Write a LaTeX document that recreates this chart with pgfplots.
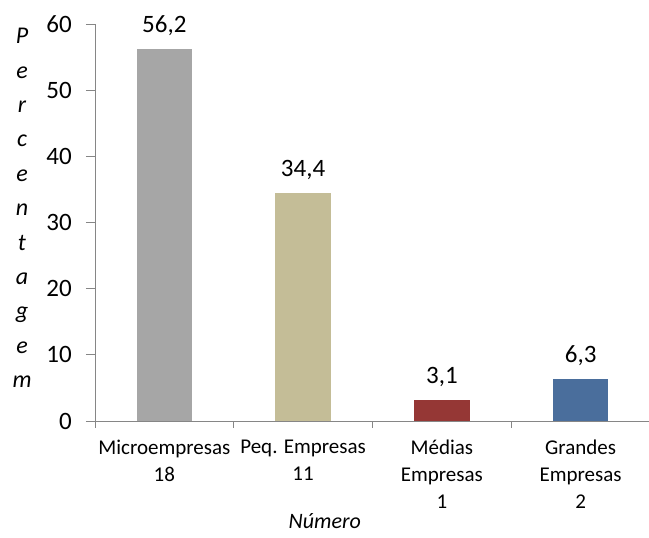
\documentclass[border=0pt]{standalone}
\usepackage{pgfplots}
\pgfplotsset{compat=1.18}
\usepackage{fontspec}
\setmainfont{Carlito}
\definecolor{axgray}{HTML}{868686}
\definecolor{cgray}{HTML}{A6A6A6}
\definecolor{ctan}{HTML}{C4BD97}
\definecolor{cred}{HTML}{953735}
\definecolor{cblue}{HTML}{4A6E9C}
\begin{document}
\begin{tikzpicture}
\path[use as bounding box] (-95pt,-117pt) rectangle (554pt,421pt);
\begin{axis}[
  at={(0,0)}, anchor=south west,
  width=555pt, height=397pt, scale only axis,
  xmin=-0.5, xmax=3.5, ymin=0, ymax=60,
  axis x line=bottom, axis y line=left,
  axis line style={-, axgray, line width=0.9pt},
  clip=false,
  /pgf/number format/assume math mode=true,
  ytick={0,10,...,60},
  tick align=outside,
  major tick length=9pt,
  minor tick length=7pt,
  tick style={axgray, line width=0.9pt},
  major x tick style={draw=none},
  xtick={0,1,2,3},
  minor xtick={-0.5,0.5,1.5,2.5,3.5},
  xticklabels={Microempresas\\18, Peq. Empresas\\11, Médias\\Empresas\\1, Grandes\\Empresas\\2},
  xticklabel style={align=center, font=\fontsize{21}{27}\selectfont, inner sep=0pt, anchor=north, yshift=-10pt},
  yticklabel style={font=\fontsize{25}{28}\selectfont, inner sep=0pt, anchor=east, xshift=-14pt},
  ylabel={P\\e\\r\\c\\e\\n\\t\\a\\g\\e\\m},
  ylabel style={rotate=-90, align=center, font=\itshape\fontsize{24}{34.4}\selectfont, anchor=center, at={(axis description cs:-0.1315,0.5365)}},
  xlabel={Número},
  xlabel style={font=\itshape\fontsize{22}{26}\selectfont, anchor=center, at={(axis description cs:0.414,-0.252)}},
  nodes near coords={\pgfmathprintnumber[use comma,fixed,fixed zerofill,precision=1]{\pgfplotspointmeta}},
  every node near coord/.append style={font=\fontsize{25}{28}\selectfont, inner sep=0pt, anchor=base, yshift=17pt, black},
]
\addplot[ybar, bar width=0.4, bar shift=0pt, fill=cgray, draw=none] coordinates {(0,56.2)};
\addplot[ybar, bar width=0.4, bar shift=0pt, fill=ctan, draw=none] coordinates {(1,34.4)};
\addplot[ybar, bar width=0.4, bar shift=0pt, fill=cred, draw=none] coordinates {(2,3.1)};
\addplot[ybar, bar width=0.4, bar shift=0pt, fill=cblue, draw=none] coordinates {(3,6.3)};
\end{axis}
\end{tikzpicture}
\end{document}
